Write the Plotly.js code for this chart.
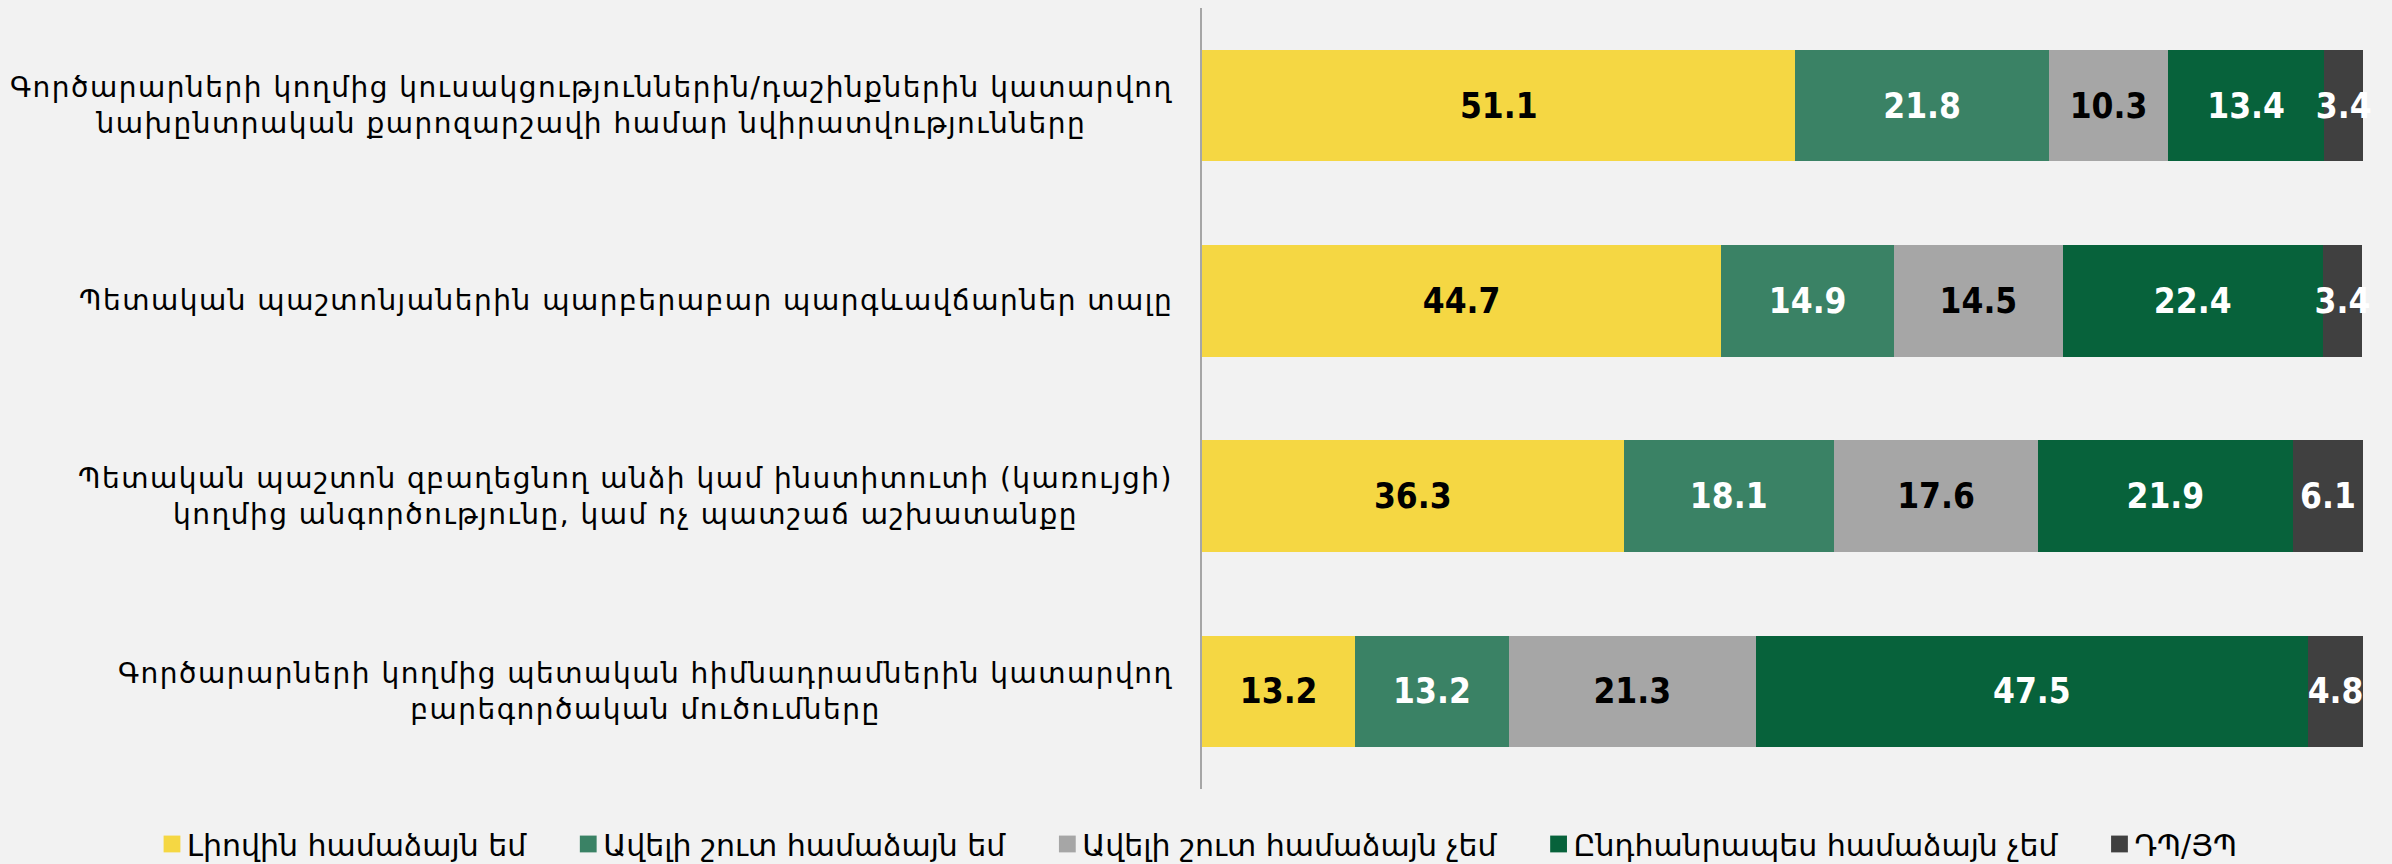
<!DOCTYPE html>
<html>
<head>
<meta charset="utf-8">
<script src="https://cdn.plot.ly/plotly-3.0.1.min.js"></script>
<style>
html,body{margin:0;padding:0;background:#F2F2F2;}
#chart{width:2392px;height:864px;}
.annotation-text{letter-spacing:1.5px;}
.legendpoints path{transform:translate(56px,0px) scale(1.4);}
</style>
</head>
<body>
<div id="chart"></div>
<script>
const categories = [
  "Գործարարների կողմից կուսակցություններին/դաշինքներին կատարվող<br>նախընտրական քարոզարշավի համար նվիրատվությունները",
  "Պետական պաշտոնյաներին պարբերաբար պարգևավճարներ տալը",
  "Պետական պաշտոն զբաղեցնող անձի կամ ինստիտուտի (կառույցի)<br>կողմից անգործությունը, կամ ոչ պատշաճ աշխատանքը",
  "Գործարարների կողմից պետական հիմնադրամներին կատարվող<br>բարեգործական մուծումները"
];
const seriesNames = ["Լիովին համաձայն եմ","Ավելի շուտ համաձայն եմ","Ավելի շուտ համաձայն չեմ","Ընդհանրապես համաձայն չեմ","ԴՊ/ՅՊ"];
const fullyAgree     = [51.1, 44.7, 36.3, 13.2];
const ratherAgree    = [21.8, 14.9, 18.1, 13.2];
const ratherDisagree = [10.3, 14.5, 17.6, 21.3];
const fullyDisagree  = [13.4, 22.4, 21.9, 47.5];
const dkNa           = [3.4, 3.4, 6.1, 4.8];

const values = [fullyAgree, ratherAgree, ratherDisagree, fullyDisagree, dkNa];
const colors = ["#F5D743","#3A8265","#A6A6A6","#07623B","#404040"];
const textColors = ["#000000","#FFFFFF","#000000","#FFFFFF","#FFFFFF"];
const ids = ["c1","c2","c3","c4"];

const traces = values.map((v,i)=>({
  type:'bar', orientation:'h', name:seriesNames[i],
  y: ids, x: v,
  text: v.map(n=>n.toFixed(1)),
  textposition:'inside', insidetextanchor:'middle', constraintext:'none', textangle:0,
  textfont:{family:'"DejaVu Sans Condensed", "DejaVu Sans", sans-serif', size:35, color:textColors[i], weight:'bold'},
  marker:{color:colors[i], line:{width:0}},
  cliponaxis:false, hoverinfo:'skip'
}));

const annotations = ids.map((id,i)=>({
  xref:'paper', yref:'y', x:0, y:id, xanchor:'right', yanchor:'middle',
  xshift:-27, text:categories[i], showarrow:false, align:'center',
  font:{family:'"DejaVu Sans", sans-serif', size:28, color:'#000000'}
}));

const layout = {
  width:2392, height:864,
  paper_bgcolor:'#F2F2F2', plot_bgcolor:'#F2F2F2',
  margin:{l:1202, r:28, t:8, b:75, autoexpand:false},
  barmode:'stack', bargap:0.43,
  showlegend:true,
  legend:{orientation:'h', xref:'paper', x:-0.9346, xanchor:'left',
    yref:'paper', y:-0.0704, yanchor:'middle', itemwidth:61,
    font:{family:'"DejaVu Sans", sans-serif', size:30, color:'#000000'},
    traceorder:'normal', bgcolor:'rgba(0,0,0,0)'},
  xaxis:{range:[0,100.05], visible:false, fixedrange:true},
  yaxis:{type:'category', autorange:'reversed', showticklabels:false, showgrid:false, zeroline:false,
    showline:true, linecolor:'#A6A6A6', linewidth:2, ticks:''},
  annotations: annotations
};
Plotly.newPlot('chart', traces, layout, {staticPlot:true, displayModeBar:false});
</script>
</body>
</html>
